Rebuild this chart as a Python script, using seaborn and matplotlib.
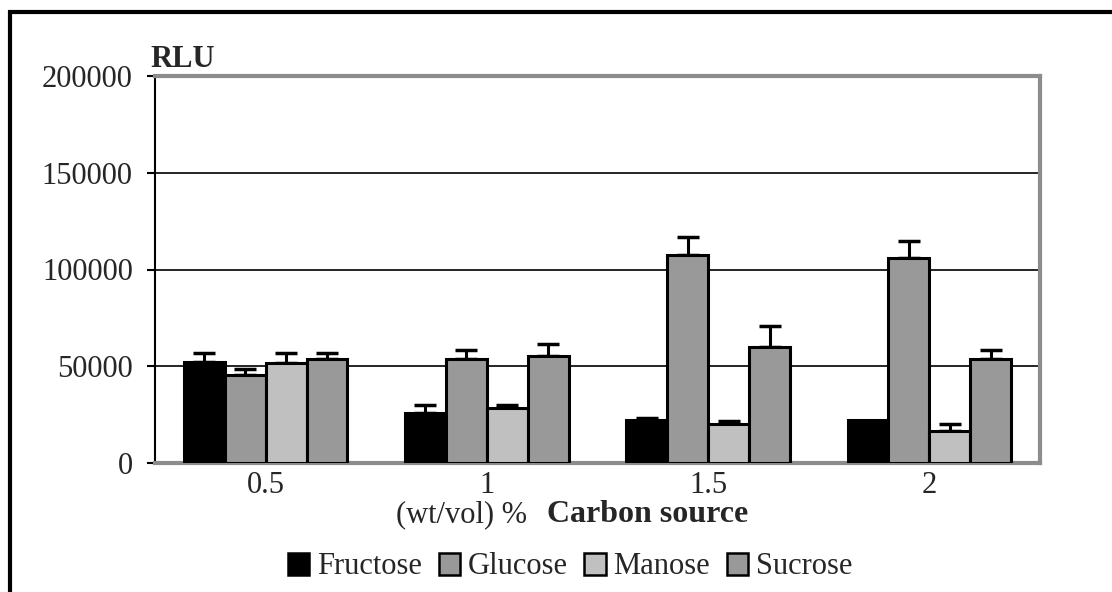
import pandas as pd
import seaborn as sns
import matplotlib.pyplot as plt
from matplotlib.patches import Rectangle, Patch

# values
concentrations = ["0.5", "1", "1.5", "2"]
sugars = ["Fructose", "Glucose", "Manose", "Sucrose"]
fructose = [52000, 25700, 22200, 22000]
fructose_err = [4600, 4500, 1300, 0]
glucose = [45700, 53500, 107500, 106000]
glucose_err = [2800, 4800, 9300, 8800]
manose = [51800, 28500, 20200, 16600]
manose_err = [4800, 1700, 1500, 3500]
sucrose = [53500, 55200, 59900, 53500]
sucrose_err = [3100, 6300, 10700, 4800]
y_ticks = [0, 50000, 100000, 150000, 200000]

palette = {"Fructose": "#000000", "Glucose": "#999999",
           "Manose": "#c0c0c0", "Sucrose": "#999999"}

values = {"Fructose": fructose, "Glucose": glucose, "Manose": manose, "Sucrose": sucrose}
errors = {"Fructose": fructose_err, "Glucose": glucose_err,
          "Manose": manose_err, "Sucrose": sucrose_err}

rows = []
for s in sugars:
    for c, v, e in zip(concentrations, values[s], errors[s]):
        rows.append({"conc": c, "sugar": s, "rlu": v, "err": e})
df = pd.DataFrame(rows)

sns.set_style("white")
plt.rcParams["font.family"] = ["Liberation Serif", "DejaVu Serif"]
plt.rcParams["font.size"] = 22

fig = plt.figure(figsize=(11.12, 5.92), dpi=100)
ax = fig.add_axes([155 / 1112, (592 - 463) / 592, (1040 - 155) / 1112, (463 - 76) / 592])

sns.barplot(data=df, x="conc", y="rlu", hue="sugar", hue_order=sugars,
            order=concentrations, palette=palette, width=0.74,
            edgecolor="black", linewidth=2.2, errorbar=None, legend=False,
            saturation=1, ax=ax, zorder=3)

# upward error bars, placed on the bars seaborn drew
for container, s in zip(ax.containers, sugars):
    for bar, c in zip(container, concentrations):
        row = df[(df.sugar == s) & (df.conc == c)].iloc[0]
        if row.err <= 0:
            continue
        xc = bar.get_x() + bar.get_width() / 2
        ax.errorbar(xc, row.rlu, yerr=[[0], [row.err]], fmt="none",
                    ecolor="black", elinewidth=2.2, capsize=8, capthick=2.5, zorder=2)

ax.set_xlim(-0.5, len(concentrations) - 0.5)
ax.set_ylim(0, 200000)
ax.set_yticks(y_ticks)
ax.set_yticklabels([str(t) for t in y_ticks])
ax.yaxis.grid(True, color="black", linewidth=1.2, zorder=0)
ax.set_axisbelow(True)
ax.set_xlabel("")
ax.set_ylabel("")
ax.tick_params(axis="y", left=True, length=6, width=1.5, color="black", pad=10)
ax.tick_params(axis="x", bottom=False, pad=2)

for side in ["top", "right", "bottom"]:
    ax.spines[side].set_color("#8c8c8c")
    ax.spines[side].set_linewidth(3)
ax.spines["left"].set_color("black")
ax.spines["left"].set_linewidth(1.5)

ax.text(-0.005, 1.005, "RLU", transform=ax.transAxes, ha="left", va="bottom",
        fontweight="bold", fontsize=22)

fig.text(527 / 1112, 1 - 515 / 592, "(wt/vol) %", ha="right", va="center", fontsize=22)
fig.text(547 / 1112, 1 - 515 / 592, "Carbon source", ha="left", va="center",
         fontsize=23, fontweight="bold")

handles = [Patch(facecolor=palette[s], edgecolor="black", linewidth=1.8, label=s)
           for s in sugars]
fig.legend(handles=handles, loc="center", bbox_to_anchor=(570 / 1112, 1 - 567 / 592),
           ncol=4, frameon=False, fontsize=22, handlelength=0.7, handleheight=0.7,
           handletextpad=0.25, columnspacing=0.55, borderpad=0)

# outer frame of the picture, cut off at the right and bottom
fig.patches.append(Rectangle((9.5 / 1112, -0.2), 1.2, 1.2 - 11.5 / 592,
                             transform=fig.transFigure, fill=False,
                             edgecolor="black", linewidth=3))

fig.savefig("out.png", dpi=100)
